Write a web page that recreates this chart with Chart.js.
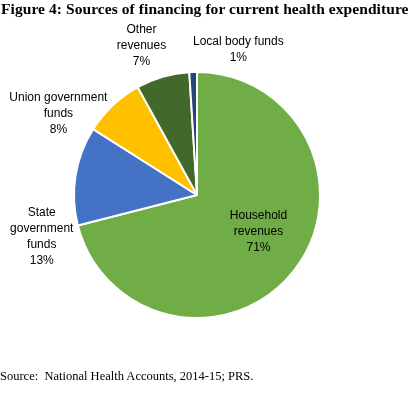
<!DOCTYPE html>
<html>
<head>
<meta charset="utf-8">
<script src="https://cdn.jsdelivr.net/npm/chart.js@4.4.1/dist/chart.umd.min.js"></script>
<style>
  html, body { margin: 0; padding: 0; background: #fff; }
  #wrap { position: relative; width: 414px; height: 399px; overflow: hidden; }
  #wrap canvas { position: absolute; left: 0; top: 0; }
  #title { position: absolute; left: 1px; top: 0px; font-family: "Liberation Serif", "Times New Roman", serif; font-weight: bold; font-size: 15.5px; letter-spacing: 0.07px; white-space: nowrap; color: #000; }
  #source { position: absolute; left: 0px; top: 369px; font-family: "Liberation Serif", "Times New Roman", serif; font-size: 12.5px; white-space: nowrap; color: #000; }
</style>
</head>
<body>
<div id="wrap">
  <canvas id="c" width="414" height="399"></canvas>
  <div id="title">Figure 4: Sources of financing for current health expenditure</div>
  <div id="source">Source:&nbsp; National Health Accounts, 2014-15; PRS.</div>
</div>
<script>
// ---- data ----
const categoryLines = [
  ["Household", "revenues"],
  ["State", "government", "funds"],
  ["Union government", "funds"],
  ["Other", "revenues"],
  ["Local body funds"]
];
const categories = categoryLines.map(l => l.join(' '));
const shares = [71, 13, 8, 7, 1];
const percentLabels = ["71%", "13%", "8%", "7%", "1%"];

// ---- styling ----
const sliceColors = ['#70AD47', '#4472C4', '#FFC000', '#43682B', '#264478'];
// label anchor relative to pie centre, in units of the outer radius
const labelAnchors = [
  [0.50, 0.30],
  [-1.262, 0.336],
  [-1.127, -0.664],
  [-0.451, -1.213],
  [0.336, -1.180]
];

const labelPlugin = {
  id: 'sliceLabels',
  afterDatasetsDraw(chart) {
    const ctx = chart.ctx;
    const meta = chart.getDatasetMeta(0);
    ctx.save();
    ctx.font = '12px "Liberation Sans", Arial, sans-serif';
    ctx.fillStyle = '#000';
    ctx.textAlign = 'center';
    ctx.textBaseline = 'middle';
    const lh = 16;
    meta.data.forEach((arc, i) => {
      const r = arc.outerRadius;
      const cx = arc.x + labelAnchors[i][0] * r;
      const cy = arc.y + labelAnchors[i][1] * r;
      const lines = categoryLines[i].concat([percentLabels[i]]);
      const top = cy - (lines.length - 1) * lh / 2;
      lines.forEach((t, k) => ctx.fillText(t, cx, top + k * lh));
    });
    ctx.restore();
  }
};

new Chart(document.getElementById('c'), {
  type: 'pie',
  data: {
    labels: categories,
    datasets: [{
      data: shares,
      backgroundColor: sliceColors,
      borderColor: '#ffffff',
      borderWidth: 2
    }]
  },
  options: {
    responsive: false,
    animation: false,
    radius: 123,
    layout: { padding: { left: 75, right: 95, top: 73, bottom: 82 } },
    plugins: {
      legend: { display: false },
      tooltip: { enabled: false },
      title: { display: false }
    }
  },
  plugins: [labelPlugin]
});
</script>
</body>
</html>
